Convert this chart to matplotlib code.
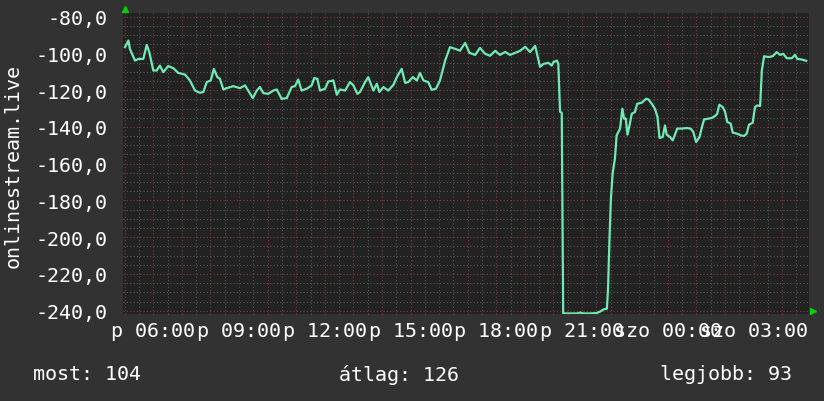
import matplotlib
matplotlib.use('Agg')
import matplotlib.pyplot as plt
import numpy as np

# ---- data (hours since Friday 00:00, value) ----
times = [5.01, 5.13, 5.18, 5.36, 5.48, 5.65, 5.77, 5.86, 6.00, 6.12, 6.23, 6.35, 6.52, 6.70, 6.87,
         7.11, 7.28, 7.46, 7.63, 7.75, 7.87, 8.01, 8.12, 8.24, 8.33, 8.45, 8.57, 8.80, 9.03, 9.21,
         9.32, 9.48, 9.62, 9.73, 9.85, 10.02, 10.20, 10.32, 10.49, 10.67, 10.84, 10.96, 11.07, 11.19,
         11.37, 11.54, 11.63, 11.74, 11.83, 12.01, 12.12, 12.30, 12.42, 12.53, 12.71, 12.88, 13.00,
         13.14, 13.23, 13.41, 13.52, 13.70, 13.82, 13.91, 14.05, 14.22, 14.40, 14.52, 14.69, 14.81,
         14.92, 15.08, 15.22, 15.33, 15.45, 15.62, 15.74, 15.89, 16.03, 16.21, 16.38, 16.56, 16.73,
         16.91, 17.06, 17.26, 17.43, 17.61, 17.78, 17.96, 18.13, 18.31, 18.48, 18.66, 18.83, 19.01,
         19.18, 19.36, 19.53, 19.65, 19.82, 19.94, 20.00, 20.12, 20.17, 20.23, 20.29, 20.34, 20.58,
         20.83, 20.93, 21.04, 21.28, 21.51, 21.63, 21.77, 21.87, 21.91, 21.96, 22.01, 22.07, 22.15,
         22.21, 22.33, 22.41, 22.47, 22.53, 22.59, 22.66, 22.74, 22.85, 22.93, 23.09, 23.24, 23.32,
         23.44, 23.55, 23.64, 23.71, 23.82, 23.90, 23.96, 24.08, 24.17, 24.25, 24.33, 24.49, 24.66,
         24.80, 24.89, 24.99, 25.11, 25.21, 25.27, 25.42, 25.54, 25.65, 25.73, 25.80, 25.92, 26.00,
         26.08, 26.20, 26.27, 26.43, 26.55, 26.67, 26.76, 26.84, 26.97, 27.05, 27.13, 27.23, 27.29,
         27.37, 27.52, 27.67, 27.81, 27.93, 28.04, 28.16, 28.34, 28.45, 28.53, 28.69, 28.84]
values = [-96.6, -93.0, -97.5, -103.9, -103.0, -103.0, -95.4, -99.3, -109.3, -109.3, -106.6, -110.2,
          -106.9, -108.0, -110.6, -111.5, -114.7, -120.2, -121.4, -121.0, -115.6, -114.7, -108.4,
          -112.9, -113.8, -119.6, -118.9, -117.8, -118.9, -117.4, -120.2, -124.3, -120.2, -118.3,
          -121.6, -122.0, -120.2, -119.6, -124.7, -124.3, -118.3, -117.8, -114.2, -120.2, -119.2,
          -117.4, -113.4, -113.8, -120.2, -119.2, -115.3, -114.7, -122.5, -119.6, -120.2, -115.6,
          -117.4, -122.0, -121.0, -115.6, -112.9, -120.2, -116.5, -121.0, -118.3, -120.2, -117.1,
          -112.9, -108.4, -116.0, -115.6, -112.9, -114.7, -110.6, -114.7, -115.6, -119.8, -119.2,
          -114.7, -103.9, -96.6, -97.5, -98.5, -94.3, -99.7, -100.8, -97.0, -100.2, -101.3, -98.6,
          -100.8, -99.2, -100.8, -99.7, -98.6, -96.4, -99.2, -95.9, -107.3, -105.7, -105.1, -106.6,
          -104.7, -103.9, -105.7, -131.7, -132.3, -241.5, -241.5, -241.5, -241.0, -241.5, -241.5,
          -241.3, -240.5, -239.2, -238.9, -227.8, -200.6, -178.9, -165.4, -157.2, -144.6, -140.9,
          -130.1, -135.5, -135.5, -144.2, -139.2, -132.8, -131.9, -127.4, -126.8, -124.7, -125.0,
          -127.4, -130.1, -134.6, -146.0, -145.5, -139.2, -144.2, -145.5, -147.3, -144.2, -140.9,
          -140.9, -140.6, -140.9, -142.7, -148.2, -145.5, -139.2, -135.9, -135.5, -135.1, -134.1,
          -132.8, -127.9, -129.2, -131.6, -137.3, -138.2, -143.1, -143.7, -144.6, -144.9, -143.7,
          -138.8, -137.7, -129.2, -128.3, -128.6, -109.3, -101.5, -102.0, -101.5, -99.3, -100.8,
          -100.2, -102.6, -102.6, -100.8, -103.0, -103.3, -104.0]

x_tick_hours = [6, 9, 12, 15, 18, 21, 24, 27]
x_tick_labels = ['p 06:00', 'p 09:00', 'p 12:00', 'p 15:00', 'p 18:00', 'p 21:00',
                 'szo 00:00', 'szo 03:00']
y_ticks = [-80, -100, -120, -140, -160, -180, -200, -220, -240]
y_tick_labels = ['-80,0', '-100,0', '-120,0', '-140,0', '-160,0', '-180,0', '-200,0',
                 '-220,0', '-240,0']
y_label = 'onlinestream.live'
stat_names = ['most', 'átlag', 'legjobb']
stat_values = [104, 126, 93]

# ---- style ----
W, H = 824, 402
BG = '#323232'
PLOT_BG = '#222222'
LINE = '#70eab4'
MINOR = '#575757'
MAJOR = '#7d3b3b'
FONT = 'DejaVu Sans Mono'
FS = 14.4

fig = plt.figure(figsize=(W / 100, H / 100), dpi=100, facecolor=BG)
L, R, T, B = 123, 809, 14, 315
ax = fig.add_axes([L / W, 1 - B / H, (R - L) / W, (B - T) / H])
ax.set_facecolor(PLOT_BG)
ax.set_xlim(4.94, 28.94)
ax.set_ylim(-241.8, -78.0)
for s in ax.spines.values():
    s.set_visible(False)

dots = (0, (1, 2))
ext = 3 / (B - T)
for xv in np.arange(5.0, 29.0, 0.5):
    major = abs(xv - round(xv)) < 1e-6
    ax.axvline(xv, ymin=0, ymax=1 + ext, color=MAJOR if major else MINOR,
               lw=0.8, ls=dots, clip_on=False, zorder=1)
for yv in np.arange(-240, -79, 5):
    major = yv % 20 == 0
    ax.axhline(yv, color=MAJOR if major else MINOR, lw=0.8, ls=dots, zorder=1)

ax.plot(times, values, color=LINE, lw=1.6, zorder=3)

# axis arrows
ax.plot([5.0], [1 + 4 / (B - T)], marker='^', color='#00d000', ms=5,
        transform=ax.get_xaxis_transform(), clip_on=False, zorder=4)
ax.plot([1 + 4 / (R - L)], [-240], marker='>', color='#00d000', ms=5,
        transform=ax.get_yaxis_transform(), clip_on=False, zorder=4)

ax.set_xticks(x_tick_hours)
ax.set_xticklabels(x_tick_labels, fontfamily=FONT, fontsize=FS, color='white')
ax.set_yticks(y_ticks)
ax.set_yticklabels(y_tick_labels, fontfamily=FONT, fontsize=FS, color='white')
ax.tick_params(axis='x', length=0, pad=5)
ax.tick_params(axis='y', length=0, pad=11.5)

fig.text(13 / W, 1 - 166 / H, y_label, rotation=90, ha='center', va='center',
         fontfamily=FONT, fontsize=FS, color='white')

stat_pos = [(33, 'left'), (399, 'center'), (792, 'right')]
for (name, val), (px, ha) in zip(zip(stat_names, stat_values), stat_pos):
    fig.text(px / W, 1 - 375 / H, f'{name}: {val}', ha=ha, va='center',
             fontfamily=FONT, fontsize=FS, color='white')

fig.savefig('out.png', dpi=100, facecolor=BG)
